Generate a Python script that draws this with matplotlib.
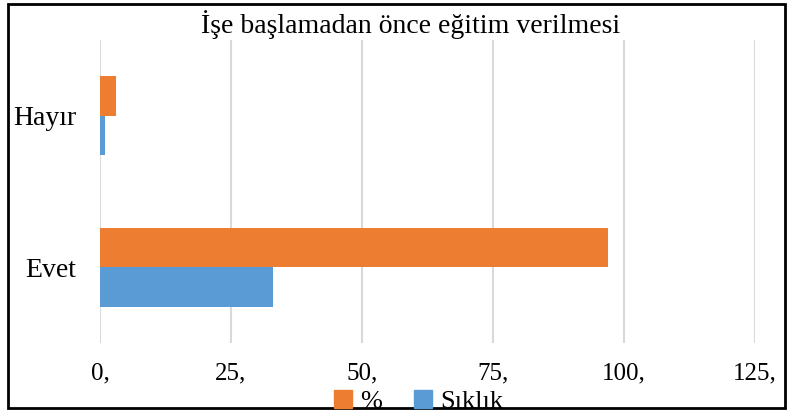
import matplotlib

matplotlib.use("Agg")
import matplotlib.pyplot as plt
import numpy as np
from matplotlib.patches import Patch, Rectangle

categories = ["Evet", "Hayır"]
siklik = [33, 1]
yuzde = [97, 3]
xticks = [0, 25, 50, 75, 100, 125]
xtick_labels = ["0,", "25,", "50,", "75,", "100,", "125,"]

BLUE, ORANGE, GRID = "#5b9bd5", "#ed7d31", "#d9d9d9"
SERIF = "Liberation Serif"

fig = plt.figure(figsize=(7.87, 4.12), dpi=100)
ax = fig.add_axes([0.127, 0.167, 0.832, 0.736])

y = np.arange(len(categories))
h = 0.26
ax.barh(y + h / 2, yuzde, height=h, color=ORANGE, zorder=2)
ax.barh(y - h / 2, siklik, height=h, color=BLUE, zorder=2)

ax.set_xlim(0, 125)
ax.set_ylim(-0.5, 1.5)
ax.set_xticks(xticks)
ax.set_xticklabels(xtick_labels, fontsize=18, family=SERIF)
ax.set_yticks(y)
ax.set_yticklabels(categories, fontsize=20, family=SERIF)
ax.tick_params(length=0)
ax.tick_params(axis="x", pad=14)
ax.tick_params(axis="y", pad=17)
ax.grid(axis="x", color=GRID, lw=1.5, zorder=0)
for s in ax.spines.values():
    s.set_visible(False)

fig.text(0.522, 0.94, "İşe başlamadan önce eğitim verilmesi", ha="center",
         va="center", fontsize=20, family=SERIF)

handles = [Patch(color=ORANGE, label="%"), Patch(color=BLUE, label="Sıklık")]
fig.legend(handles=handles, loc="center", bbox_to_anchor=(0.532, 0.025), ncol=2,
           frameon=False, prop={"family": SERIF, "size": 19}, handlelength=0.7,
           handleheight=0.7, handletextpad=0.3, columnspacing=1.2,
           borderpad=0.1)

fig.patches.append(Rectangle((0.01, 0.01), 0.987, 0.98, transform=fig.transFigure,
                             fill=False, ec="black", lw=2, zorder=5))

fig.savefig("out.png", dpi=100)
